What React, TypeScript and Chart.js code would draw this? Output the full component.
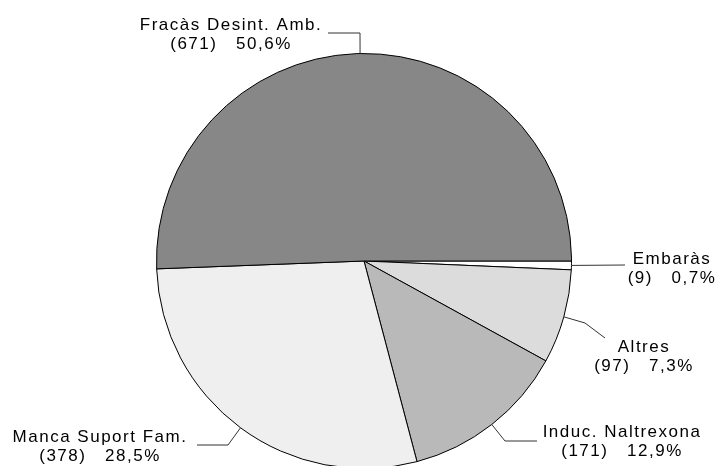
import React, { useEffect, useRef } from "react";
import { Chart, registerables } from "chart.js";

Chart.register(...registerables);

// Data (clockwise from 3 o'clock)
const categories: string[] = ["Embaràs", "Altres", "Induc. Naltrexona", "Manca Suport Fam.", "Fracàs Desint. Amb."];
const counts: number[] = [9, 97, 171, 378, 671];
const percentLabels: string[] = ["0,7%", "7,3%", "12,9%", "28,5%", "50,6%"];
const sliceColors: string[] = ["#ffffff", "#dcdcdc", "#b9b9b9", "#efefef", "#878787"];

// Label layout: text center x, first-line baseline y, leader elbow and end points
type LabelPos = { cx: number; by: number; elbow: [number, number]; end: [number, number] };
const labelLayout: LabelPos[] = [
  { cx: 672, by: 264, elbow: [625, 265], end: [625, 265] },
  { cx: 644, by: 352, elbow: [585, 323], end: [605, 338] },
  { cx: 622, by: 437, elbow: [505, 441], end: [537, 441] },
  { cx: 100, by: 442, elbow: [228, 445], end: [197, 445] },
  { cx: 231, by: 30, elbow: [360, 33], end: [328, 33] },
];

const labelPlugin = {
  id: "leaderLabels",
  afterDraw(chart: any) {
    const ctx = chart.ctx as CanvasRenderingContext2D;
    const meta = chart.getDatasetMeta(0);
    ctx.save();
    meta.data.forEach((arc: any, i: number) => {
      const p = arc.getProps(["x", "y", "startAngle", "endAngle", "outerRadius"], true);
      const mid = (p.startAngle + p.endAngle) / 2;
      const sx = p.x + p.outerRadius * Math.cos(mid);
      const sy = p.y + p.outerRadius * Math.sin(mid);
      const L = labelLayout[i];
      ctx.strokeStyle = "#333333";
      ctx.lineWidth = 1;
      ctx.beginPath();
      ctx.moveTo(sx, sy);
      ctx.lineTo(L.elbow[0], L.elbow[1]);
      ctx.lineTo(L.end[0], L.end[1]);
      ctx.stroke();

      ctx.fillStyle = "#000000";
      ctx.font = "17px 'Liberation Sans', Arial, sans-serif";
      (ctx as any).letterSpacing = "1.5px";
      ctx.textAlign = "center";
      ctx.textBaseline = "alphabetic";
      ctx.fillText(categories[i], L.cx, L.by);
      ctx.fillText("(" + counts[i] + ")   " + percentLabels[i], L.cx, L.by + 19);
    });
    ctx.restore();
  },
};

export default function App() {
  const ref = useRef<HTMLCanvasElement | null>(null);
  useEffect(() => {
    document.body.style.margin = "0";
    const chart = new Chart(ref.current as HTMLCanvasElement, {
      type: "pie",
      data: {
        labels: categories,
        datasets: [
          {
            data: counts,
            backgroundColor: sliceColors,
            borderColor: "#000000",
            borderWidth: 1,
          },
        ],
      },
      options: {
        responsive: false,
        animation: false,
        rotation: 90,
        layout: { padding: { left: 156, right: 144, top: 53, bottom: 11 } },
        plugins: { legend: { display: false }, tooltip: { enabled: false } },
      },
      plugins: [labelPlugin],
    });
    return () => chart.destroy();
  }, []);
  return (
    <div style={{ width: 716, height: 466, overflow: "hidden", position: "relative", background: "#fff" }}>
      <canvas ref={ref} width={716} height={480} style={{ display: "block" }} />
    </div>
  );
}
